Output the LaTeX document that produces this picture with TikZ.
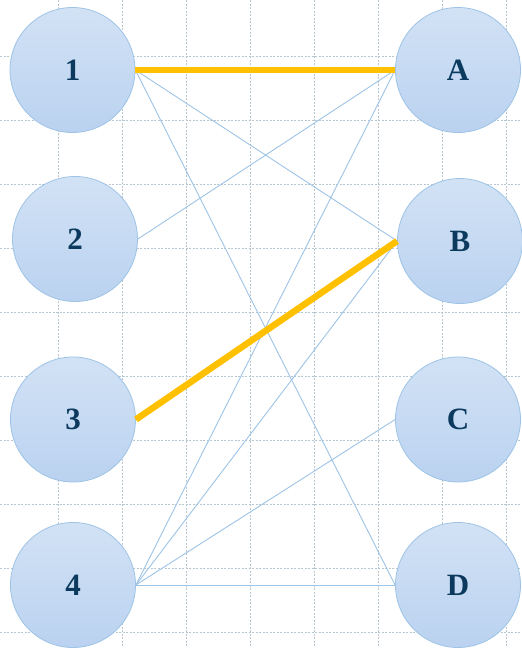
\documentclass[tikz,border=0pt]{standalone}
\usepackage{fontspec}
\setmainfont{Liberation Serif}
\definecolor{gridcol}{HTML}{B6C7D2}
\definecolor{edgecol}{HTML}{9DC3E6}
\definecolor{matchcol}{HTML}{FFC000}
\definecolor{rimcol}{HTML}{9DC3E6}
\definecolor{topcol}{HTML}{D2E2F5}
\definecolor{botcol}{HTML}{BAD2F0}
\definecolor{labcol}{HTML}{0B3A5E}
\tikzset{
  vertex/.style={circle,draw=rimcol,line width=0.8pt,top color=topcol,bottom color=botcol,
    minimum size=125pt,inner sep=0pt,font=\fontsize{31}{31}\selectfont\bfseries,text=labcol},
  edge/.style={draw=edgecol,line width=0.9pt},
  match/.style={draw=matchcol,line width=6.5pt}
}
\begin{document}
\begin{tikzpicture}[x=1pt,y=-1pt]
    \useasboundingbox (0,0) rectangle (522,648);

    % Draw grid
    \foreach \gx in {58,122,...,506}
        \draw[gridcol,line width=0.6pt,dash pattern=on 2pt off 1.5pt] (\gx,0) -- (\gx,648);
    \foreach \gy in {56,120,...,632}
        \draw[gridcol,line width=0.6pt,dash pattern=on 2pt off 1.5pt] (0,\gy) -- (522,\gy);

    % Vertices
    \node[vertex] (v1) at (72.5,70) {1};
    \node[vertex] (v2) at (75,239) {2};
    \node[vertex] (v3) at (73,419.5) {3};
    \node[vertex] (v4) at (73,585) {4};
    \node[vertex] (uA) at (458,70) {A};
    \node[vertex] (uB) at (460,241) {B};
    \node[vertex] (uC) at (458,419.5) {C};
    \node[vertex] (uD) at (458,585) {D};

    % Edges
    \draw[edge] (v1.east) -- (uB.west);
    \draw[edge] (v1.east) -- (uD.west);
    \draw[edge] (v2.east) -- (uA.west);
    \draw[edge] (v4.east) -- (uA.west);
    \draw[edge] (v4.east) -- (uB.west);
    \draw[edge] (v4.east) -- (uC.west);
    \draw[edge] (v4.east) -- (uD.west);

    % Matching
    \draw[match] (v1.east) -- (uA.west);
    \draw[match] (v3.east) -- (uB.west);

\end{tikzpicture}
\end{document}
